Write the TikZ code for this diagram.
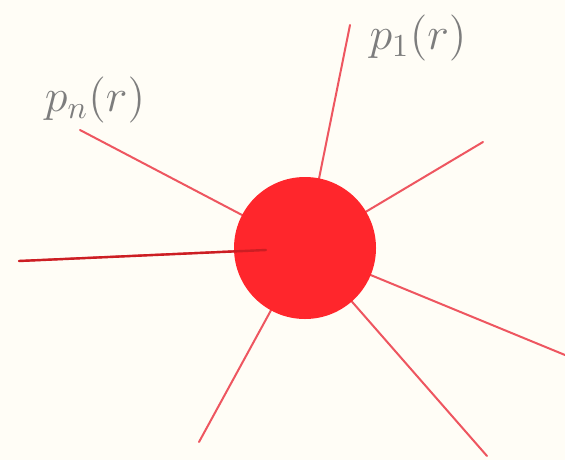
\documentclass[tikz,border=0pt]{standalone}
\usepackage{amsmath}
\usepackage{tikz}
\usetikzlibrary{positioning}
\definecolor{paper}{RGB}{255,253,246}
\definecolor{spokered}{RGB}{238,86,96}
\definecolor{ballred}{RGB}{255,38,44}
\definecolor{labelgray}{RGB}{125,125,125}
\tikzstyle{spoke} = [spokered, line width=1pt, line cap=round]
\tikzstyle{ball} = [circle, fill=ballred, minimum size=71pt, inner sep=0pt]
\tikzstyle{plabel} = [text=labelgray, font=\Large, scale=1.6]

\begin{document}
\begin{tikzpicture}[x=0.5pt, y=-0.5pt]
    \fill[paper] (0,0) rectangle (565,460);
    \useasboundingbox (0,0) rectangle (565,460);
    \coordinate (c) at (305,248);
    \coordinate (t1) at (350,25);
    \coordinate (t2) at (483,142);
    \coordinate (t3) at (565,355);
    \coordinate (t4) at (487,456);
    \coordinate (t5) at (199,442);
    \coordinate (t6) at (80,130);
    \coordinate (t7) at (19,261);
    \foreach \t in {t1,t2,t3,t4,t5,t6,t7}
      \draw[spoke] (c) -- (\t);
    \node[ball] (core) at (c) {};
    \coordinate (tip) at (266,250);
    \draw[spoke, line width=1.2pt, color=ballred!80!black] (t7) -- (tip);
    \node[plabel] (p1) at (418,38) {$p_1(r)$};
    \node[plabel] (pn) at (95,100) {$p_n(r)$};
  \end{tikzpicture}
\end{document}
